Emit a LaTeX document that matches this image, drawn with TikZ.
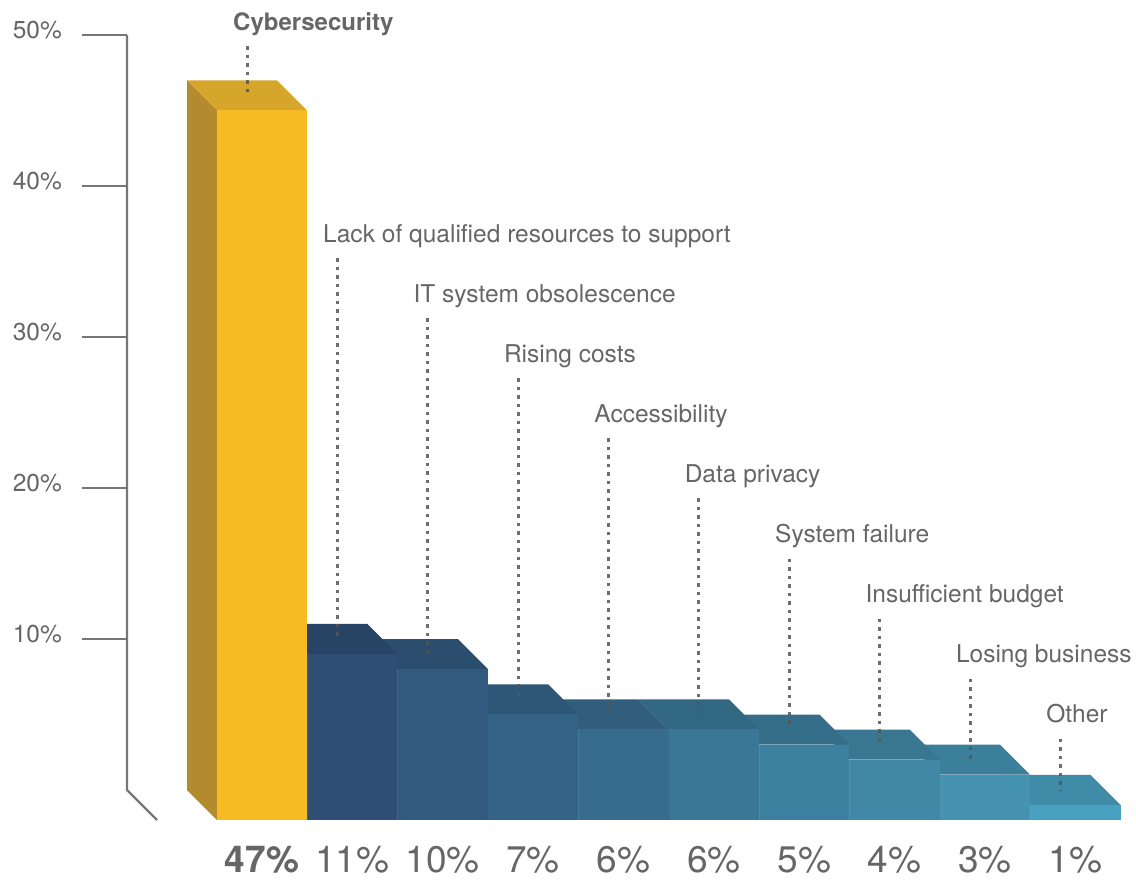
\documentclass[tikz,border=0pt]{standalone}
\usepackage{fontspec}
\setmainfont{TeX Gyre Heros}

\definecolor{txtgray}{HTML}{666666}
\definecolor{axisgray}{HTML}{777777}
\definecolor{leadgray}{HTML}{555555}
\definecolor{yellowfront}{HTML}{F6BA22}
\definecolor{yellowtop}{HTML}{D6A52B}
\definecolor{yellowside}{HTML}{B48A2F}
\definecolor{barA}{HTML}{2E4E74}
\definecolor{barB}{HTML}{32597E}
\definecolor{barC}{HTML}{356387}
\definecolor{barD}{HTML}{386C8F}
\definecolor{barE}{HTML}{3A7696}
\definecolor{barF}{HTML}{3D7F9E}
\definecolor{barG}{HTML}{4188A6}
\definecolor{barH}{HTML}{4592B1}
\definecolor{barI}{HTML}{48A0C1}

\tikzset{
  labeltext/.style={text=txtgray, inner sep=0pt,
                    font=\fontsize{24.5}{28}\selectfont},
  valuetext/.style={text=txtgray, inner sep=0pt,
                    font=\fontsize{37}{40}\selectfont},
  leader/.style={draw=leadgray, draw opacity=0.85, line width=3pt,
                 dash pattern=on 3.5pt off 5pt},
  axisline/.style={draw=axisgray, line width=2.2pt}
}

\begin{document}
\begin{tikzpicture}[x=1pt, y=-1pt]
    \useasboundingbox (0,0) rectangle (1136,879);

    % Axis

    \draw[axisline] (127,35) -- (127,790) -- (157,820);
    \foreach \t in {10,20,30,40,50} {
        \pgfmathsetmacro\ty{790-15.1*\t}
        \draw[axisline] (82,\ty) -- (127,\ty);
        \node (tick\t) [labeltext, anchor=mid east] at (62,\ty+1) {\t\%};
    }

    % Blue bars, drawn right to left

    \foreach \i/\v/\lab/\col in {9/1/Other/barI,
                                 8/3/Losing business/barH,
                                 7/4/Insufficient budget/barG,
                                 6/5/System failure/barF,
                                 5/6/Data privacy/barE,
                                 4/6/Accessibility/barD,
                                 3/7/Rising costs/barC,
                                 2/10/IT system obsolescence/barB,
                                 1/11/Lack of qualified resources to support/barA} {
        \pgfmathsetmacro\xl{307+(\i-1)*90.4}
        \pgfmathsetmacro\yt{820-15.1*\v}
        \pgfmathsetmacro\yl{242+(\i-1)*60.1}
        \fill[\col!87!black] (\xl-30,\yt-30) -- (\xl+60.4,\yt-30)
              -- (\xl+90.4,\yt) -- (\xl,\yt) -- cycle;
        \fill[\col] (\xl,\yt) rectangle (\xl+90.4,820);
        \draw[white, opacity=0.08, line width=1pt] (\xl,\yt) -- (\xl,820);
        \coordinate (top\i) at (\xl+30.2,\yt-15);
        \node (lbl\i) [labeltext, anchor=base west] at (\xl+16,\yl) {\lab};
        \draw[leader] ([yshift=-16pt]lbl\i.base -| top\i) -- (top\i);
        \node (val\i) [valuetext, anchor=base] at (\xl+45.2,872) {\v\%};
    }

    % Cybersecurity bar

    \fill[yellowside] (187,80.3) -- (217,110.3) -- (217,820) -- (187,790) -- cycle;
    \fill[yellowtop] (187,80.3) -- (277,80.3) -- (307,110.3) -- (217,110.3) -- cycle;
    \fill[yellowfront] (217,110.3) rectangle (307,820);
    \coordinate (top0) at (247,95.3);
    \node (lbl0) [labeltext, anchor=base west, font=\fontsize{24}{28}\selectfont\bfseries]
          at (233,30) {Cybersecurity};
    \draw[leader] ([yshift=-16pt]lbl0.base -| top0) -- (top0);
    \node (val0) [valuetext, anchor=base, font=\fontsize{37}{40}\selectfont\bfseries]
          at (262,872) {47\%};
\end{tikzpicture}
\end{document}
